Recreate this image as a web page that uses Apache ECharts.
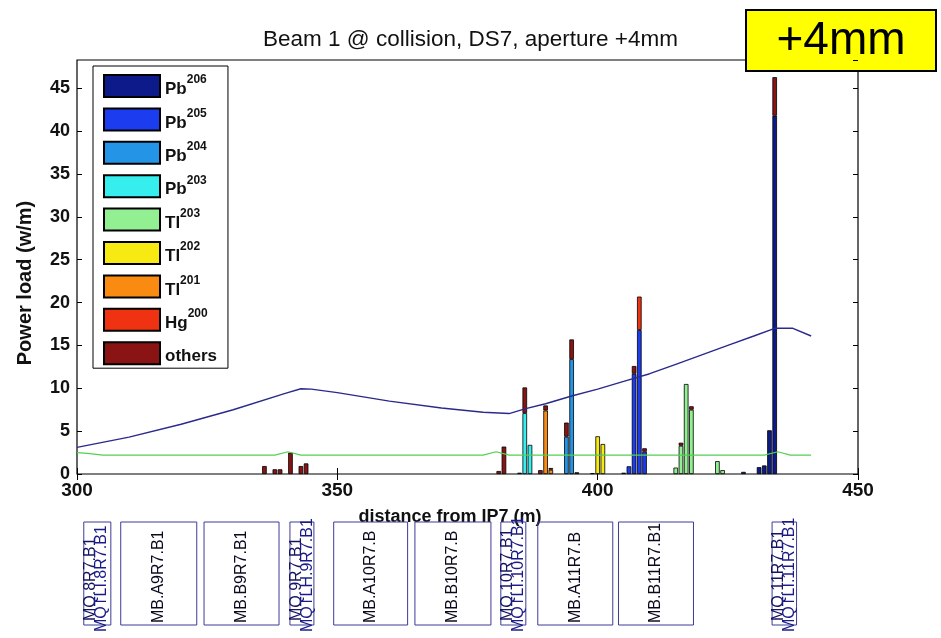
<!DOCTYPE html>
<html><head><meta charset="utf-8">
<script src="https://cdn.jsdelivr.net/npm/echarts@6/dist/echarts.min.js"></script>
<style>html,body{margin:0;padding:0;background:#fff}#chart{width:941px;height:638px}</style>
</head><body><div id="chart"></div>
<script>
// Stacked isotope groups, bottom to top
const isotopeNames = ['Pb206','Pb205','Pb204','Pb203','Tl203','Tl202','Tl201','Hg200','others'];
const isotopeElement = ['Pb','Pb','Pb','Pb','Tl','Tl','Tl','Hg','others'];
const isotopeMass = ['206','205','204','203','203','202','201','200',''];
const isotopeColors = ['#0c1a8a','#1c3cf0','#2394e6','#36eeee','#92ef92','#f7ea12','#f98a12','#ee3212','#8a1414'];

// Power load per 1 m bin: [distance from IP7 (m), W/m]
const loadPb206 = [[405,0.15],[428,0.25],[431,0.8],[432,1.0],[433,5.1],[434,41.8]];
const loadPb205 = [[406,0.9],[407,11.7],[408,16.8],[409,2.6]];
const loadPb204 = [[394,4.35],[395,13.4]];
const loadPb203 = [[386,7.1],[387,3.4]];
const loadTl203 = [[415,0.75],[416,3.3],[417,10.5],[418,7.5],[423,1.5],[424,0.45]];
const loadTl202 = [[400,4.4],[401,3.5]];
const loadTl201 = [[390,7.4],[391,0.5]];
const loadHg200 = [[408,3.9]];
const loadOthers = [[336,0.93],[338,0.55],[339,0.55],[341,2.5],[343,0.93],[344,1.24],[381,0.35],[382,3.2],
  [385,0.15],[386,3.0],[389,0.45],[390,0.6],[391,0.2],[394,1.65],[395,2.3],[396,0.2],[399,0.1],
  [407,0.9],[409,0.4],[416,0.35],[418,0.4],[434,4.5]];

// Upper (blue) and lower (green) reference curves
const blueCurveS   = [300,310,320,330,340,343,345,350,360,370,378,383,386,390,395,400,405,410,415,420,425,430,434,437.5,441];
const blueCurveVal = [3.1,4.3,5.8,7.5,9.4,9.95,9.9,9.5,8.5,7.7,7.2,7.05,7.6,8.2,9.1,9.9,10.8,11.7,12.8,13.9,15.0,16.1,17.0,17.0,16.1];
const greenCurveS   = [300,302,305,338,340.5,343,378,380.5,383,432,434.6,437,441];
const greenCurveVal = [2.5,2.4,2.2,2.2,2.6,2.2,2.2,2.6,2.2,2.2,2.6,2.2,2.2];

// Magnet layout below the axis
const magnetStart = [301.3,308.4,324.4,340.9,349.3,364.9,381.4,388.5,404.0,433.5];
const magnetEnd   = [306.5,323.0,338.8,345.5,363.5,379.5,386.2,402.9,418.4,438.2];
const magnetLabel  = ['MQ.8R7.B1','MB.A9R7.B1','MB.B9R7.B1','MQ.9R7.B1','MB.A10R7.B','MB.B10R7.B','MQ.10R7.B1','MB.A11R7.B','MB.B11R7.B1','MQ.11R7.B1'];
const magnetLabel2 = ['MQTLI.8R7.B1','','','MQTLH.9R7.B1','','','MQTLI.10R7.B1','','','MQTLI.11R7.B1'];

const xTicks = [300,350,400,450];
const yTicks = [0,5,10,15,20,25,30,35,40,45];
const binStep = 1;            // metres per bin
const sMin = 300, sMax = 450;

const seriesLoads = [loadPb206,loadPb205,loadPb204,loadPb203,loadTl203,loadTl202,loadTl201,loadHg200,loadOthers];
// one category per metre, so the stack lines up bin by bin
const binCats = [];
for (let s = sMin; s <= sMax; s += binStep) binCats.push(String(s));

const FONT = '"Liberation Sans", Arial, sans-serif';
const chart = echarts.init(document.getElementById('chart'));

const barSeries = isotopeNames.map((name, i) => {
  const m = new Map(seriesLoads[i].map(p => [String(p[0]), p[1]]));
  return {
    name, type: 'bar', stack: 'load', xAxisIndex: 3, yAxisIndex: 0,
    barWidth: 4.6,
    itemStyle: { color: isotopeColors[i], borderColor: '#000', borderWidth: 0.8 },
    data: binCats.map(c => m.has(c) ? m.get(c) : '-'),
    z: 2
  };
});

function magnetItem(params, api) {
  const i = params.dataIndex;
  const tl = api.coord([api.value(0), 1]);
  const br = api.coord([api.value(1), 0]);
  const children = [{
    type: 'rect',
    shape: { x: tl[0], y: tl[1], width: br[0] - tl[0], height: br[1] - tl[1] },
    style: { fill: 'none', stroke: '#3c3c98', lineWidth: 1 }
  }];
  const label = (text, x, y, color) => ({
    type: 'text', x, y, rotation: Math.PI / 2,
    style: { text, fill: color, font: '16px ' + FONT, align: 'left', verticalAlign: 'middle' }
  });
  if (!magnetLabel2[i]) {
    children.push(label(magnetLabel[i], (tl[0] + br[0]) / 2, br[1] - 2, '#0a0a1e'));
  } else {
    children.push(label(magnetLabel[i], tl[0] + 6.5, br[1] - 4, '#141460'));
    children.push(label(magnetLabel2[i], tl[0] + 17.5, br[1] + 7, '#1a1a88'));
  }
  return { type: 'group', children };
}

chart.setOption({
  animation: false,
  backgroundColor: '#fff',
  title: {
    text: 'Beam 1 @ collision, DS7, aperture +4mm',
    left: 'center', top: 23,
    textStyle: { fontFamily: FONT, fontSize: 22.5, fontWeight: 'normal', color: '#111' }
  },
  grid: [
    { left: 77, top: 60, width: 781, height: 414, show: true, borderColor: '#000', borderWidth: 1.2, backgroundColor: '#fff' },
    { left: 77, top: 522, width: 781, height: 103 }
  ],
  legend: {
    data: isotopeNames, orient: 'vertical', left: 93, top: 66,
    itemWidth: 56, itemHeight: 22, itemGap: 9.4,
    padding: [8, 11, 3, 10],
    borderColor: '#000', borderWidth: 1, backgroundColor: '#fff',
    selectedMode: false, icon: 'rect',
    formatter: name => {
      const i = isotopeNames.indexOf(name);
      return isotopeMass[i] ? '{el|' + isotopeElement[i] + '}{sup|' + isotopeMass[i] + '}' : '{el|' + isotopeElement[i] + '}';
    },
    textStyle: {
      fontFamily: FONT, color: '#111',
      rich: {
        el: { fontSize: 17, fontWeight: 'bold', fontFamily: FONT, color: '#111', lineHeight: 24, verticalAlign: 'bottom' },
        sup: { fontSize: 12, fontWeight: 'bold', fontFamily: FONT, color: '#111', lineHeight: 14, verticalAlign: 'top' }
      }
    }
  },
  xAxis: [
    {
      gridIndex: 0, type: 'value', min: sMin, max: sMax, interval: 50, position: 'bottom',
      name: 'distance from IP7 (m)', nameLocation: 'middle', nameGap: 34,
      nameTextStyle: { fontFamily: FONT, fontSize: 18, fontWeight: 'bold', color: '#111', padding: [0, 35, 0, 0] },
      axisLine: { show: false },
      axisTick: { inside: true, length: 6, lineStyle: { color: '#000' } },
      axisLabel: { fontFamily: FONT, fontSize: 19, fontWeight: 'bold', color: '#111', margin: 7,
        formatter: v => xTicks.includes(v) ? String(v) : '' },
      splitLine: { show: false }
    },
    {
      gridIndex: 0, type: 'value', min: sMin, max: sMax, interval: 50, position: 'top',
      axisLine: { show: false }, axisLabel: { show: false },
      axisTick: { inside: true, length: 6, lineStyle: { color: '#000' } },
      splitLine: { show: false }
    },
    { gridIndex: 1, type: 'value', min: sMin, max: sMax, show: false },
    { gridIndex: 0, type: 'category', data: binCats, boundaryGap: false, show: false }
  ],
  yAxis: [
    {
      gridIndex: 0, type: 'value', min: 0, max: 48.3, interval: 5, position: 'left',
      name: 'Power load (w/m)', nameLocation: 'middle', nameRotate: 90, nameGap: 42,
      nameTextStyle: { fontFamily: FONT, fontSize: 20, fontWeight: 'bold', color: '#111', padding: [0, 32, 0, 0] },
      axisLine: { show: false },
      axisTick: { inside: true, length: 5, lineStyle: { color: '#000' } },
      axisLabel: { fontFamily: FONT, fontSize: 18, fontWeight: 'bold', color: '#111', margin: 7,
        showMaxLabel: false, formatter: v => yTicks.includes(v) ? String(v) : '' },
      splitLine: { show: false }
    },
    {
      gridIndex: 0, type: 'value', min: 0, max: 48.3, interval: 5, position: 'right',
      axisLine: { show: false }, axisLabel: { show: false },
      axisTick: { inside: true, length: 5, lineStyle: { color: '#000' } },
      splitLine: { show: false }
    },
    { gridIndex: 1, type: 'value', min: 0, max: 1, show: false }
  ],
  series: barSeries.concat([
    {
      name: 'blue', type: 'line', xAxisIndex: 0, yAxisIndex: 0, symbol: 'none', z: 3,
      lineStyle: { color: '#2a2a8c', width: 1.4 },
      data: blueCurveS.map((s, i) => [s, blueCurveVal[i]])
    },
    {
      name: 'green', type: 'line', xAxisIndex: 0, yAxisIndex: 0, symbol: 'none', z: 3,
      lineStyle: { color: '#52d052', width: 1.2 },
      data: greenCurveS.map((s, i) => [s, greenCurveVal[i]])
    },
    {
      name: 'magnets', type: 'custom', xAxisIndex: 2, yAxisIndex: 2,
      dimensions: ['start', 'end'], encode: { x: [0, 1] },
      renderItem: magnetItem,
      data: magnetStart.map((s, i) => [s, magnetEnd[i]]),
      silent: true, z: 1
    }
  ]),
  graphic: [
    {
      type: 'group', left: 745, top: 9, z: 10,
      children: [
        { type: 'rect', shape: { x: 0, y: 0, width: 190, height: 61 }, style: { fill: '#ffff00', stroke: '#000', lineWidth: 2 } },
        { type: 'text', x: 95, y: 31, style: { text: '+4mm', font: '46px ' + FONT, fill: '#000', align: 'center', verticalAlign: 'middle' } }
      ]
    }
  ]
});
</script>
</body></html>
